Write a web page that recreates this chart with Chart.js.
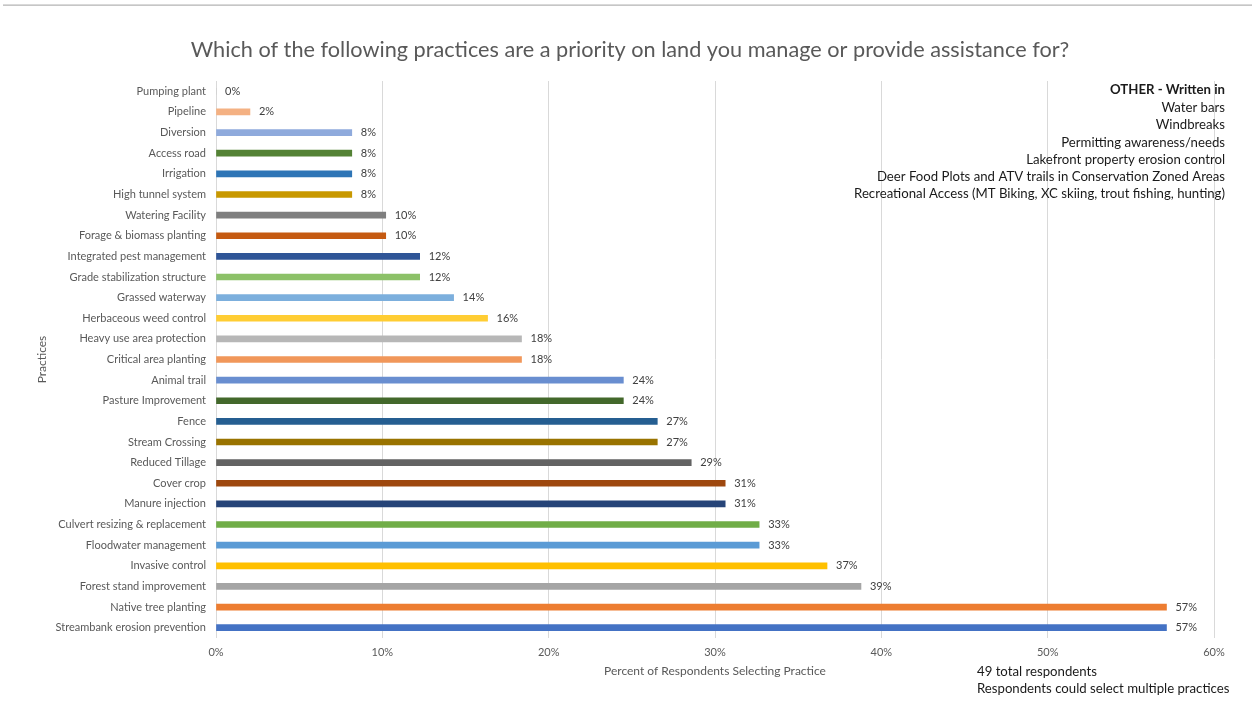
<!DOCTYPE html>
<html>
<head>
<meta charset="utf-8">
<script src="https://cdn.jsdelivr.net/npm/chart.js@4.4.1/dist/chart.umd.min.js"></script>
<style>
  html, body { margin: 0; padding: 0; background: #ffffff; }
  #wrap { width: 1252px; height: 704px; position: relative; }
</style>
</head>
<body>
<div id="wrap"><canvas id="chart" width="1252" height="704"></canvas></div>
<script>
// Survey practices, listed top to bottom as they appear on the axis
const practices = [
  'Pumping plant', 'Pipeline', 'Diversion', 'Access road', 'Irrigation',
  'High tunnel system', 'Watering Facility', 'Forage & biomass planting',
  'Integrated pest management', 'Grade stabilization structure',
  'Grassed waterway', 'Herbaceous weed control', 'Heavy use area protection',
  'Critical area planting', 'Animal trail', 'Pasture Improvement', 'Fence',
  'Stream Crossing', 'Reduced Tillage', 'Cover crop', 'Manure injection',
  'Culvert resizing & replacement', 'Floodwater management', 'Invasive control',
  'Forest stand improvement', 'Native tree planting', 'Streambank erosion prevention'
];

// Number of respondents selecting each practice
const respondentCounts = [
  0, 1, 4, 4, 4,
  4, 5, 5,
  6, 6,
  7, 8, 9,
  9, 12, 12, 13,
  13, 14, 15, 15,
  16, 16, 18,
  19, 28, 28
];

const totalRespondents = 49;

const barColors = [
  '#C9C9C9', '#F4B183', '#8FAADC', '#548235', '#2E75B6',
  '#C89800', '#7F7F7F', '#C55A11',
  '#2F5597', '#8CC168',
  '#7CAFDD', '#FFCD33', '#B7B7B7',
  '#F1975A', '#698ED0', '#43682B', '#255E91',
  '#997300', '#636363', '#9E480E', '#264478',
  '#70AD47', '#5B9BD5', '#FFC000',
  '#A5A5A5', '#ED7D31', '#4472C4'
];

const xTicks = [0, 10, 20, 30, 40, 50, 60];

const chartTitle = 'Which of the following practices are a priority on land you manage or provide assistance for?';
const otherHeading = 'OTHER - Written in';
const otherResponses = [
  'Water bars',
  'Windbreaks',
  'Permitting awareness/needs',
  'Lakefront property erosion control',
  'Deer Food Plots and ATV trails in Conservation Zoned Areas',
  'Recreational Access (MT Biking, XC skiing, trout fishing, hunting)'
];
const footNotes = [
  totalRespondents + ' total respondents',
  'Respondents could select multiple practices'
];

const percentValues = respondentCounts.map(c => c / totalRespondents * 100);

const FONT = 'Lato, "Open Sans", sans-serif';

// Value labels at the end of each bar
const barValueLabels = {
  id: 'barValueLabels',
  afterDatasetsDraw(chart) {
    const ctx = chart.ctx;
    const meta = chart.getDatasetMeta(0);
    ctx.save();
    ctx.font = '11px ' + FONT;
    ctx.fillStyle = '#404040';
    ctx.textAlign = 'left';
    ctx.textBaseline = 'middle';
    meta.data.forEach((bar, i) => {
      const label = Math.round(percentValues[i]) + '%';
      ctx.fillText(label, bar.x + 9, bar.y);
    });
    ctx.restore();
  }
};

// Title, top rule, write-in responses and footnotes
const pageText = {
  id: 'pageText',
  afterDraw(chart) {
    const ctx = chart.ctx;
    ctx.save();
    ctx.fillStyle = '#d9d9d9';
    ctx.fillRect(3, 4, 1249, 1);
    ctx.fillStyle = '#c6c6c6';
    ctx.fillRect(3, 5, 1249, 1);

    ctx.fillStyle = '#595959';
    ctx.font = '21.7px ' + FONT;
    ctx.textAlign = 'center';
    ctx.textBaseline = 'middle';
    ctx.fillText(chartTitle, 630, 50);

    ctx.fillStyle = '#1a1a1a';
    ctx.textAlign = 'right';
    ctx.font = 'bold 13.2px ' + FONT;
    ctx.fillText(otherHeading, 1225, 90);
    ctx.font = '13.2px ' + FONT;
    otherResponses.forEach((t, i) => ctx.fillText(t, 1225, 108 + i * 17.2));

    ctx.textAlign = 'left';
    footNotes.forEach((t, i) => ctx.fillText(t, 977, 672 + i * 17));
    ctx.restore();
  }
};

new Chart(document.getElementById('chart'), {
  type: 'bar',
  data: {
    labels: practices,
    datasets: [{
      data: percentValues,
      backgroundColor: barColors,
      barThickness: 6
    }]
  },
  options: {
    indexAxis: 'y',
    responsive: false,
    animation: false,
    devicePixelRatio: 1,
    layout: { padding: { left: 31, right: 38, top: 81, bottom: 22 } },
    plugins: {
      legend: { display: false },
      tooltip: { enabled: false },
      title: { display: false }
    },
    scales: {
      x: {
        min: 0,
        max: 60,
        afterBuildTicks(scale) { scale.ticks = xTicks.map(v => ({ value: v })); },
        afterFit(scale) { scale.height = 44; },
        grid: { color: '#d9d9d9', drawTicks: false },
        border: { display: false },
        ticks: {
          padding: 8,
          color: '#595959',
          font: { family: FONT, size: 11 },
          callback: v => v + '%'
        },
        title: {
          display: true,
          text: 'Percent of Respondents Selecting Practice',
          color: '#595959',
          font: { family: FONT, size: 12 },
          padding: { top: 4, bottom: 4 }
        }
      },
      y: {
        afterFit(scale) { scale.width = 216 - 31; },
        grid: { display: false, drawTicks: false },
        border: { display: false },
        ticks: {
          autoSkip: false,
          padding: 10,
          color: '#595959',
          font: { family: FONT, size: 11 }
        },
        title: {
          display: true,
          text: 'Practices',
          color: '#595959',
          font: { family: FONT, size: 12 },
          padding: { top: 4, bottom: 4 }
        }
      }
    }
  },
  plugins: [barValueLabels, pageText]
});
</script>
</body>
</html>
